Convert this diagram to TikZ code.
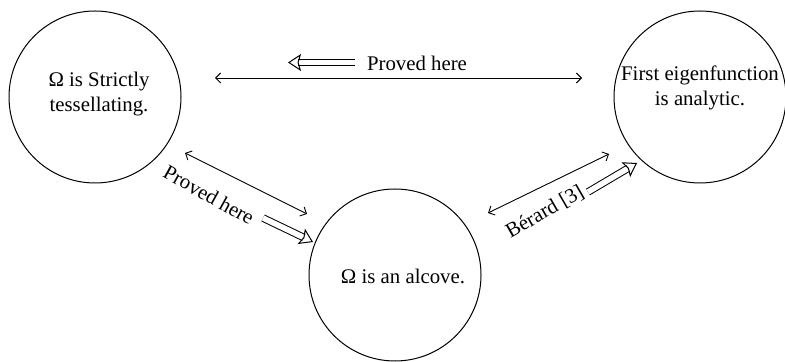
\documentclass[tikz,border=0pt]{standalone}
\usepackage{fontspec}
\setmainfont{Liberation Serif}
\usetikzlibrary{arrows.meta}
\begin{document}
\begin{tikzpicture}[x=0.5pt,y=-0.5pt,
  state/.style={circle,draw,line width=0.5pt,minimum size=86pt,inner sep=0pt},
  lbl/.style={font=\fontsize{10.4}{12.8}\selectfont,align=center,inner sep=0pt},
  biarrow/.style={line width=0.45pt,{Straight Barb[length=2.5pt,width=5pt]}-{Straight Barb[length=2.5pt,width=5pt]}},
  impl/.style={double,double distance=2.8pt,line width=0.5pt,-{Stealth[open,length=6.5pt,width=8.5pt,inset=1.2pt,line width=0.5pt]}}
]
\useasboundingbox (0,0) rectangle (785,362);
\node[state] (L) at (95,97) {};
\node[state] (R) at (700,97) {};
\node[state] (B) at (395,275) {};
\node[lbl] (Lt) at (99,94) {Ω is Strictly\\tessellating.};
\node[lbl] (Rt) at (700,88) {First eigenfunction\\is analytic.};
\node[lbl] (Bt) at (403,276) {Ω is an alcove.};
% top connector
\coordinate (a1) at (215,78); \coordinate (a2) at (582,78);
\draw[biarrow] (a1) -- (a2);
\coordinate (i1) at (355,62.5); \coordinate (i2) at (288,62.5);
\draw[impl] (i1) -- (i2);
\node[lbl] (t1) at (417,63) {Proved here};
% left diagonal
\coordinate (b1) at (185,153); \coordinate (b2) at (307,214);
\draw[biarrow] (b1) -- (b2);
\coordinate (j1) at (263,218); \coordinate (j2) at (313,242);
\draw[impl] (j1) -- (j2);
\node[lbl,rotate=-29] (t2) at (209,195) {Proved here};
% right diagonal
\coordinate (c1) at (488,213); \coordinate (c2) at (609,154);
\draw[biarrow] (c1) -- (c2);
\coordinate (k1) at (588,192); \coordinate (k2) at (637,163);
\draw[impl] (k1) -- (k2);
\node[lbl,rotate=30] (t3) at (545,212) {Bérard [3]};
\end{tikzpicture}
\end{document}
